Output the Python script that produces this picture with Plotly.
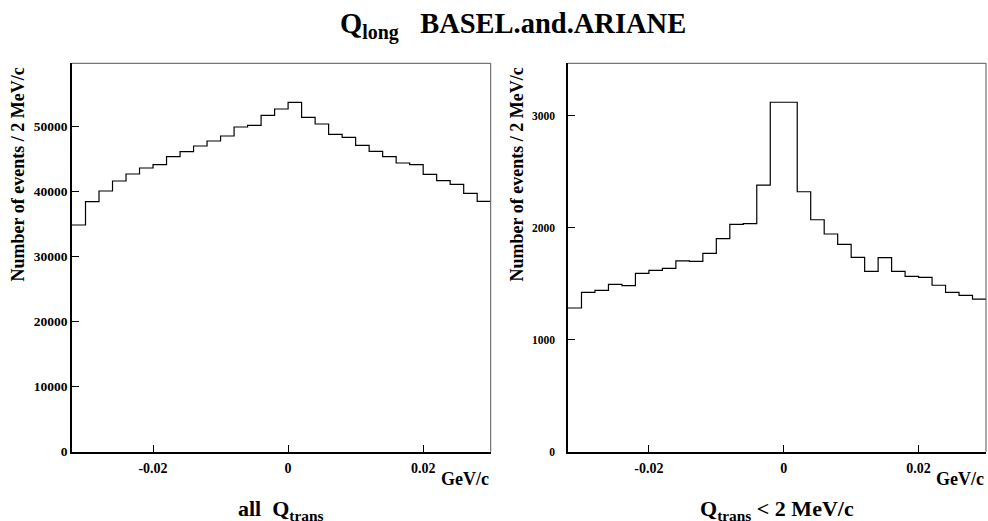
import plotly.graph_objects as go

# ---- data ----
x_min, x_max = -0.032, 0.030
bin_edges = [round(-0.032 + 0.002 * i, 3) for i in range(32)]

all_qtrans = [34877, 38462, 40108, 41646, 42723, 43646, 44154, 45385, 46154, 47031,
              47800, 48569, 49954, 50215, 51754, 52723, 53754, 51446, 50415, 48831,
              48369, 47138, 46215, 45385, 44415, 44154, 42677, 41692, 41138, 39754,
              38523]
qtrans_lt2 = [1283, 1423, 1441, 1494, 1482, 1593, 1619, 1637, 1703, 1700,
              1771, 1902, 2030, 2036, 2381, 3120, 3120, 2321, 2071, 1944,
              1851, 1736, 1611, 1732, 1611, 1566, 1557, 1486, 1423, 1396,
              1363]

x_tickvals = [-0.02, 0, 0.02]
x_ticktext = ["-0.02", "0", "0.02"]
y1_tickvals = [0, 10000, 20000, 30000, 40000, 50000]
y1_ticktext = ["0", "10000", "20000", "30000", "40000", "50000"]
y2_tickvals = [0, 1000, 2000, 3000]
y2_ticktext = ["0", "1000", "2000", "3000"]
y1_max = 59750
y2_max = 3468

FONT = "'Liberation Serif', 'Times New Roman', Times, serif"
W, H = 988, 521


def step(vals):
    return bin_edges, list(vals) + [vals[-1]]


fig = go.Figure()
xs, ys = step(all_qtrans)
fig.add_trace(go.Scatter(x=xs, y=ys, mode="lines", line=dict(shape="hv", color="black", width=1.2),
                         xaxis="x", yaxis="y", showlegend=False, hoverinfo="skip"))
xs, ys = step(qtrans_lt2)
fig.add_trace(go.Scatter(x=xs, y=ys, mode="lines", line=dict(shape="hv", color="black", width=1.2),
                         xaxis="x2", yaxis="y2", showlegend=False, hoverinfo="skip"))

L1, R1 = 72 / W, 490.7 / W
L2, R2 = 568 / W, 986 / W
B, T = 1 - 451.7 / H, 1 - 63.3 / H

axis_common = dict(ticks="inside", ticklen=7, tickwidth=1, tickcolor="black",
                   showline=True, linecolor="black", linewidth=1.5, showgrid=False, zeroline=False)
xcommon = dict(range=[x_min, x_max], tickvals=x_tickvals, ticktext=x_ticktext,
               tickfont=dict(family=FONT, size=14, color="black", weight="bold"), ticklabelstandoff=3,
               **axis_common)
fig.update_layout(
    width=W, height=H, margin=dict(l=0, r=0, t=0, b=0, autoexpand=False),
    paper_bgcolor="white", plot_bgcolor="white",
    xaxis=dict(domain=[L1, R1], anchor="y", **xcommon),
    xaxis2=dict(domain=[L2, R2], anchor="y2", **xcommon),
    yaxis=dict(domain=[B, T], anchor="x", range=[0, y1_max], tickvals=y1_tickvals, ticktext=y1_ticktext,
               tickfont=dict(family=FONT, size=13.5, color="black", weight="bold"), ticklabelstandoff=0,
               **axis_common),
    yaxis2=dict(domain=[B, T], anchor="x2", range=[0, y2_max], tickvals=y2_tickvals, ticktext=y2_ticktext,
                tickfont=dict(family=FONT, size=11.5, color="black", weight="bold"), ticklabelstandoff=9,
                **axis_common),
)

# frame top/right lines (thin gray)
for xr, yr in (("x domain", "y domain"), ("x2 domain", "y2 domain")):
    fig.add_shape(type="line", xref=xr, yref=yr, x0=0, x1=1, y0=1, y1=1, line=dict(color="#555", width=1))
    fig.add_shape(type="line", xref=xr, yref=yr, x0=1, x1=1, y0=0, y1=1, line=dict(color="#555", width=1))

ann_font = dict(family=FONT, color="black", weight="bold")
anns = [
    dict(text="Q<sub>long</sub>   BASEL.and.ARIANE", x=513 / W, y=1 - 26 / H,
         font=dict(size=28.5, **ann_font)),
    dict(text="Number of events / 2 MeV/c", x=17.5 / W, y=1 - 175 / H, textangle=-90,
         font=dict(size=18, **ann_font)),
    dict(text="Number of events / 2 MeV/c", x=516.5 / W, y=1 - 175 / H, textangle=-90,
         font=dict(size=18, **ann_font)),
    dict(text="GeV/c", x=R1, xanchor="right", y=1 - 479 / H, font=dict(size=18, **ann_font)),
    dict(text="GeV/c", x=R2, xanchor="right", y=1 - 479 / H, font=dict(size=18, **ann_font)),
    dict(text="all  Q<sub>trans</sub>", x=281 / W, y=1 - 510 / H, font=dict(size=22, **ann_font)),
    dict(text="Q<sub>trans</sub> &lt; 2 MeV/c", x=777 / W, y=1 - 510 / H, font=dict(size=22, **ann_font)),
]
for a in anns:
    a.setdefault("xanchor", "center")
    fig.add_annotation(xref="paper", yref="paper", showarrow=False, yanchor="middle", **a)

fig.write_html("out.html", config={"displayModeBar": False},
               post_script="document.body.style.margin='0';document.body.style.padding='0';")
